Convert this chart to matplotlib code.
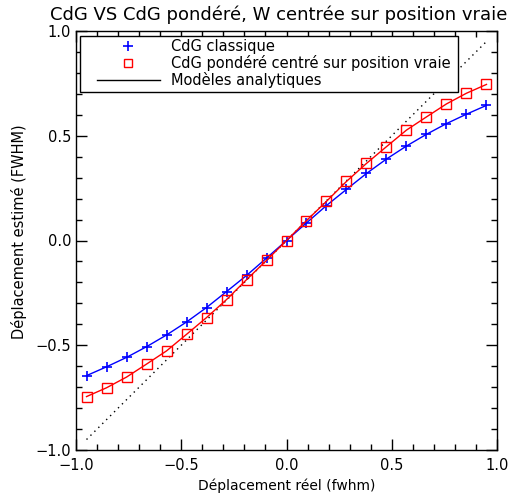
import matplotlib
matplotlib.use("Agg")
import matplotlib.pyplot as plt
from matplotlib.lines import Line2D
from matplotlib.patches import Rectangle
from matplotlib.ticker import MultipleLocator

# Data
x_real = [-0.95, -0.855, -0.76, -0.665, -0.57, -0.475, -0.38, -0.285, -0.19, -0.095,
          0.0, 0.095, 0.19, 0.285, 0.38, 0.475, 0.57, 0.665, 0.76, 0.855, 0.95]
cdg_classique = [-0.645, -0.603, -0.558, -0.507, -0.451, -0.389, -0.320, -0.244, -0.167, -0.084,
                 0.0, 0.084, 0.167, 0.244, 0.320, 0.389, 0.451, 0.507, 0.558, 0.603, 0.645]
cdg_pondere = [-0.745, -0.703, -0.652, -0.590, -0.527, -0.448, -0.368, -0.282, -0.187, -0.095,
               0.0, 0.095, 0.187, 0.282, 0.368, 0.448, 0.527, 0.590, 0.652, 0.703, 0.745]
modele_x = [-0.95, 0.95]
modele_y = [-0.95, 0.95]

labels = ["CdG classique", "CdG pondéré centré sur position vraie", "Modèles analytiques"]
title = "CdG VS CdG pondéré, W centrée sur position vraie"
xlabel = "Déplacement réel (fwhm)"
ylabel = "Déplacement estimé (FWHM)"

plt.rcParams['font.family'] = ['DejaVu Sans']
fig = plt.figure(figsize=(5.15, 4.95), dpi=100)
ax = fig.add_axes([76/515, 1 - 450/495, 421/515, 419/495])

ax.plot(modele_x, modele_y, color='black', linestyle=(0, (1, 3)), linewidth=1)
ax.plot(x_real, cdg_classique, color='blue', linewidth=1, marker='+', markersize=7,
        markeredgewidth=1.2)
ax.plot(x_real, cdg_pondere, color='red', linewidth=1, marker='s', markersize=7,
        markerfacecolor='none', markeredgewidth=1)

ax.set_xlim(-1, 1)
ax.set_ylim(-1, 1)
ax.xaxis.set_major_locator(MultipleLocator(0.5))
ax.yaxis.set_major_locator(MultipleLocator(0.5))
ax.xaxis.set_minor_locator(MultipleLocator(0.1))
ax.yaxis.set_minor_locator(MultipleLocator(0.1))
fmt = plt.FuncFormatter(lambda v, p: f"{v:.1f}".replace("-", "\u2212"))
ax.xaxis.set_major_formatter(fmt)
ax.yaxis.set_major_formatter(fmt)
ax.tick_params(which='both', direction='in', top=True, right=True, labelsize=10.5, color='black')
ax.tick_params(which='major', length=8, width=1)
ax.tick_params(which='minor', length=4, width=1)
ax.tick_params(axis='x', pad=6)
for s in ax.spines.values():
    s.set_linewidth(1)

ax.set_title(title, fontsize=13, pad=8, x=0.481)
ax.set_xlabel(xlabel, fontsize=10, labelpad=4)
ax.set_ylabel(ylabel, fontsize=10.5)
ax.yaxis.set_label_coords(-0.116, 0.52)

handles = [
    Line2D([], [], color='blue', linestyle='none', marker='+', markersize=7, markeredgewidth=1.2),
    Line2D([], [], color='red', linestyle='none', marker='s', markersize=6, markerfacecolor='none'),
    Line2D([], [], color='black', linewidth=1),
]
leg = ax.legend(handles, labels, loc='upper left', bbox_to_anchor=(0.05, 0.981),
                fontsize=10.5, frameon=False, handlelength=4.3, handletextpad=0.8,
                borderpad=0, labelspacing=0.08, borderaxespad=0)
frame = Rectangle((4/421, 358/419), 378/421, 56/419, transform=ax.transAxes,
                  facecolor='white', edgecolor='black', linewidth=1, zorder=4.5)
ax.add_patch(frame)
leg.set_zorder(5)

fig.savefig("out.png", dpi=100)
